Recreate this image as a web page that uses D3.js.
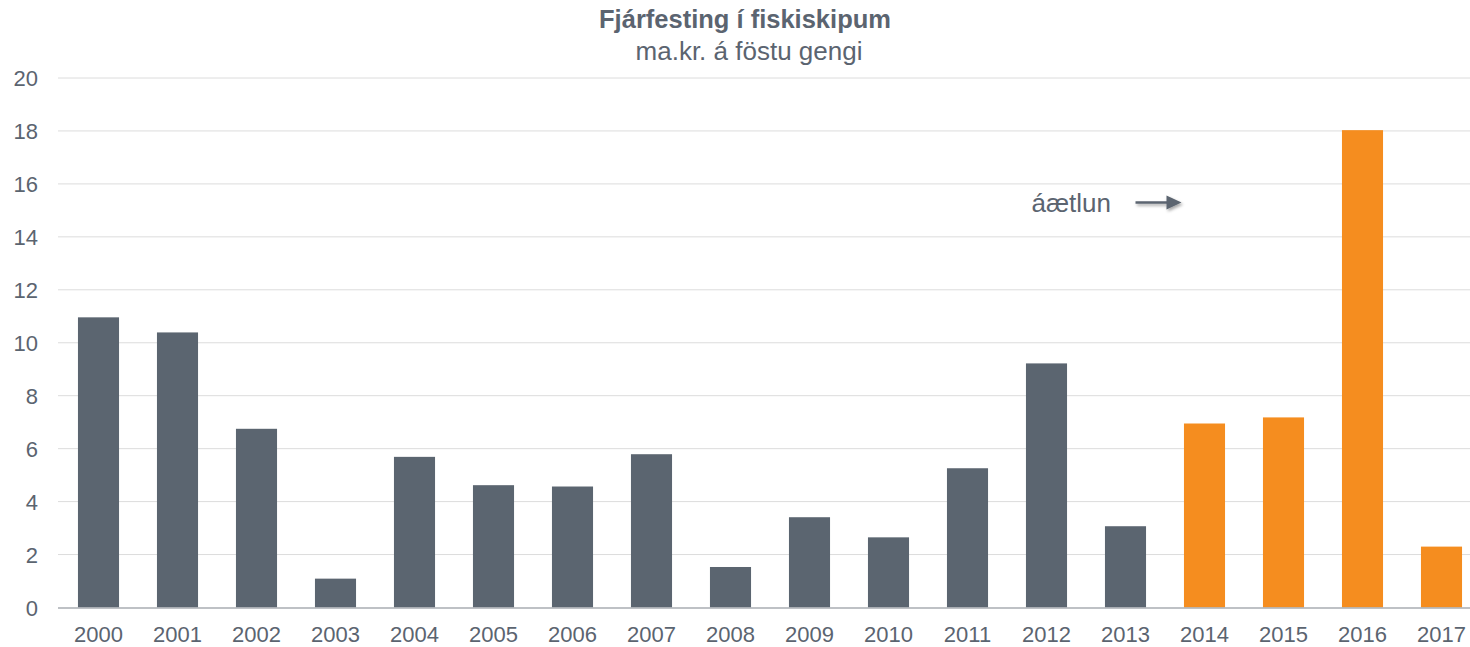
<!DOCTYPE html>
<html lang="is">
<head>
<meta charset="UTF-8">
<title>Fjárfesting í fiskiskipum</title>
<script src="https://d3js.org/d3.v7.min.js"></script>
<style>
  body { margin: 0; background: #fff; font-family: "Liberation Sans", Arial, sans-serif; }
  svg text { fill: #5b6470; }
</style>
</head>
<body>
<div id="chart"></div>
<script>
const years = ["2000","2001","2002","2003","2004","2005","2006","2007","2008",
               "2009","2010","2011","2012","2013","2014","2015","2016","2017"];
const values = [10.96, 10.39, 6.75, 1.09, 5.69, 4.62, 4.57, 5.79, 1.53,
                3.41, 2.65, 5.26, 9.22, 3.07, 6.95, 7.18, 18.03, 2.30];
// áætlun (forecast) years are drawn in orange
const forecast = ["2014","2015","2016","2017"];
const yTicks = [0, 2, 4, 6, 8, 10, 12, 14, 16, 18, 20];

const w = 1470, h = 647;
const plotLeft = 59, plotRight = 1481, plotTop = 78, plotBottom = 607.5;

const svg = d3.select("#chart").append("svg")
    .attr("width", w)
    .attr("height", h);

const x = d3.scaleBand()
    .domain(years)
    .range([plotLeft, plotRight])
    .paddingInner(0.48)
    .paddingOuter(0.24);

const y = d3.scaleLinear()
    .domain([0, 20])
    .range([plotBottom, plotTop]);

// gridlines
svg.append("g")
    .selectAll("line")
    .data(yTicks.filter(d => d > 0))
    .join("line")
    .attr("x1", plotLeft - 1)
    .attr("x2", plotRight)
    .attr("y1", d => y(d))
    .attr("y2", d => y(d))
    .attr("stroke", "#dcdcdc")
    .attr("stroke-width", 1);

// y labels
const yAxis = d3.axisLeft(y).tickValues(yTicks).tickSize(0).tickPadding(0);
svg.append("g")
    .attr("transform", "translate(38,0)")
    .call(yAxis)
    .call(g => g.select(".domain").remove())
    .selectAll("text")
    .attr("dy", "0.36em")
    .style("font-size", "22px")
    .style("font-family", "Liberation Sans, Arial, sans-serif");

// bars
svg.append("g")
    .selectAll("rect")
    .data(years)
    .join("rect")
    .attr("x", d => x(d))
    .attr("width", x.bandwidth())
    .attr("y", (d, i) => y(values[i]))
    .attr("height", (d, i) => y(0) - y(values[i]))
    .attr("fill", d => forecast.includes(d) ? "#f58d1f" : "#5b6570");

// x axis
const xAxis = d3.axisBottom(x).tickSize(0).tickPadding(0);
svg.append("g")
    .attr("transform", `translate(0,${plotBottom})`)
    .call(xAxis)
    .call(g => g.select(".domain")
        .attr("d", `M${plotLeft - 1},0.5H${plotRight}`)
        .attr("stroke", "#a9adb2")
        .attr("stroke-width", 1.5))
    .selectAll("text")
    .attr("y", 34.5)
    .attr("dy", 0)
    .style("font-size", "22px")
    .style("font-family", "Liberation Sans, Arial, sans-serif");

// title
svg.append("text")
    .attr("x", 745)
    .attr("y", 28)
    .attr("text-anchor", "middle")
    .style("font-size", "25.5px")
    .style("font-weight", "bold")
    .text("Fjárfesting í fiskiskipum");

svg.append("text")
    .attr("x", 749)
    .attr("y", 60)
    .attr("text-anchor", "middle")
    .style("font-size", "26px")
    .text("ma.kr. á föstu gengi");

// forecast annotation
const defs = svg.append("defs");
const f = defs.append("filter").attr("id", "shadow")
    .attr("x", "-20%").attr("y", "-50%").attr("width", "150%").attr("height", "250%");
f.append("feDropShadow")
    .attr("dx", 1.5).attr("dy", 2)
    .attr("stdDeviation", 1.5)
    .attr("flood-color", "#000")
    .attr("flood-opacity", 0.35);

const ax = x("2013") + x.bandwidth() / 2;
const ay = y(15.3);
svg.append("text")
    .attr("x", ax - 94)
    .attr("y", ay + 10)
    .style("font-size", "26px")
    .text("áætlun");

const arrow = svg.append("g").attr("filter", "url(#shadow)");
arrow.append("line")
    .attr("x1", ax + 10)
    .attr("x2", ax + 44)
    .attr("y1", ay)
    .attr("y2", ay)
    .attr("stroke", "#5b6570")
    .attr("stroke-width", 2.5);
arrow.append("path")
    .attr("d", `M${ax + 41},${ay - 7}L${ax + 56},${ay}L${ax + 41},${ay + 7}Z`)
    .attr("fill", "#5b6570");
</script>
</body>
</html>
